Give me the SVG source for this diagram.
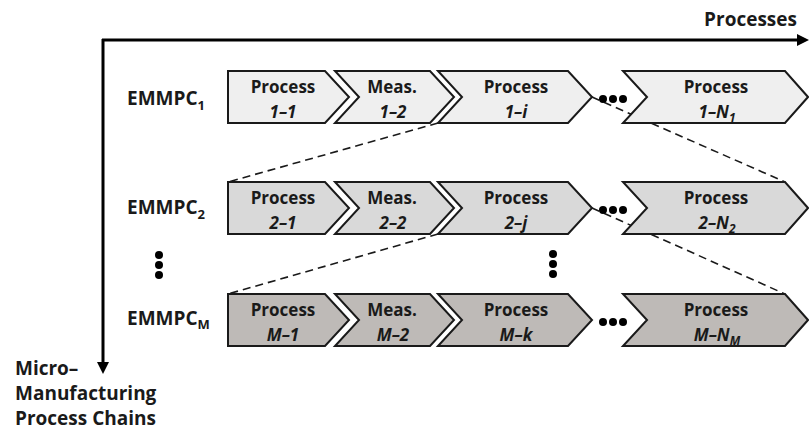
<svg xmlns="http://www.w3.org/2000/svg" width="809" height="430" viewBox="0 0 809 430">
<style>
text{font-family:"Open Sans","Liberation Sans",sans-serif;font-weight:bold;fill:#1a1a1a}
.bx{font-size:17px;text-anchor:middle}
.it{font-style:italic}
.lbl{font-size:19px}
.s1{fill:#efefef;stroke:#1a1a1a;stroke-width:2;stroke-linejoin:miter}
.s2{fill:#d9d9d9;stroke:#1a1a1a;stroke-width:2}
.s3{fill:#bebab7;stroke:#1a1a1a;stroke-width:2}
.dash{fill:none;stroke:#1a1a1a;stroke-width:1.6;stroke-dasharray:8 5}
.axis{fill:none;stroke:#000;stroke-width:3}
.dot{fill:#000}
</style>
<defs>
<marker id="ah" markerUnits="userSpaceOnUse" markerWidth="13" markerHeight="12" refX="1" refY="6" orient="auto">
<path d="M0,0 L12,6 L0,12 Z" fill="#000"/>
</marker>
<path id="p1" d="M0,0 H97 L121,26 L97,52 H0 Z"/>
<path id="p2" d="M0,0 H95 L119,26 L95,52 H0 L24,26 Z"/>
<path id="p3" d="M0,0 H130 L154,26 L130,52 H0 L24,26 Z"/>
<path id="p4" d="M0,0 H162 L185,26 L162,52 H0 L24,26 Z"/>
</defs>
<g id="connectors">
<path class="dash" d="M438,123 L228,182"/>
<path class="dash" d="M592,97 L785,182"/>
<path class="dash" d="M438,234 L228,294"/>
<path class="dash" d="M592,208 L785,294"/>
</g>
<g id="axes">
<path class="axis" d="M102,40 H798" marker-end="url(#ah)"/>
<path class="axis" d="M103,39 V363" marker-end="url(#ah)"/>
<text class="lbl" x="797" y="26" text-anchor="end">Processes</text>
<text class="lbl" x="15" y="375">Micro–</text>
<text class="lbl" x="15" y="400">Manufacturing</text>
<text class="lbl" x="15" y="425">Process Chains</text>
</g>
<g id="row1">
<text class="lbl" x="127" y="105">EMMPC<tspan font-size="13" dy="5">1</tspan></text>
<g id="n1-1"><use href="#p1" x="228" y="71" class="s1"/><text class="bx" x="283" y="93">Process</text><text class="bx it" x="283" y="118">1–1</text></g>
<g id="n1-2"><use href="#p2" x="335" y="71" class="s1"/><text class="bx" x="392" y="93">Meas.</text><text class="bx it" x="393" y="118">1–2</text></g>
<g id="n1-i"><use href="#p3" x="438" y="71" class="s1"/><text class="bx" x="516" y="93">Process</text><text class="bx it" x="516" y="118">1–i</text></g>
<g id="n1-N"><use href="#p4" x="623" y="71" class="s1"/><text class="bx" x="716" y="93">Process</text><text class="bx it" x="717" y="118">1–N<tspan font-size="12" dy="4">1</tspan></text></g>
<circle class="dot" cx="603" cy="99" r="4"/><circle class="dot" cx="613" cy="99" r="4"/><circle class="dot" cx="623" cy="99" r="4"/>
</g>
<g id="row2">
<text class="lbl" x="127" y="214">EMMPC<tspan font-size="13" dy="5">2</tspan></text>
<g id="n2-1"><use href="#p1" x="228" y="182" class="s2"/><text class="bx" x="283" y="204">Process</text><text class="bx it" x="283" y="229">2–1</text></g>
<g id="n2-2"><use href="#p2" x="335" y="182" class="s2"/><text class="bx" x="392" y="204">Meas.</text><text class="bx it" x="393" y="229">2–2</text></g>
<g id="n2-j"><use href="#p3" x="438" y="182" class="s2"/><text class="bx" x="516" y="204">Process</text><text class="bx it" x="516" y="229">2–j</text></g>
<g id="n2-N"><use href="#p4" x="623" y="182" class="s2"/><text class="bx" x="716" y="204">Process</text><text class="bx it" x="717" y="229">2–N<tspan font-size="12" dy="4">2</tspan></text></g>
<circle class="dot" cx="603" cy="210" r="4"/><circle class="dot" cx="613" cy="210" r="4"/><circle class="dot" cx="623" cy="210" r="4"/>
</g>
<g id="vdots">
<circle class="dot" cx="159" cy="255" r="4"/><circle class="dot" cx="159" cy="265" r="4"/><circle class="dot" cx="159" cy="275" r="4"/>
<circle class="dot" cx="553" cy="254" r="4"/><circle class="dot" cx="553" cy="264" r="4"/><circle class="dot" cx="553" cy="274" r="4"/>
</g>
<g id="rowM">
<text class="lbl" x="127" y="325">EMMPC<tspan font-size="13" dy="4">M</tspan></text>
<g id="nM-1"><use href="#p1" x="228" y="294" class="s3"/><text class="bx" x="283" y="316">Process</text><text class="bx it" x="283" y="341">M–1</text></g>
<g id="nM-2"><use href="#p2" x="335" y="294" class="s3"/><text class="bx" x="392" y="316">Meas.</text><text class="bx it" x="393" y="341">M–2</text></g>
<g id="nM-k"><use href="#p3" x="438" y="294" class="s3"/><text class="bx" x="516" y="316">Process</text><text class="bx it" x="516" y="341">M–k</text></g>
<g id="nM-N"><use href="#p4" x="623" y="294" class="s3"/><text class="bx" x="716" y="316">Process</text><text class="bx it" x="717" y="341">M–N<tspan font-size="12" dy="4">M</tspan></text></g>
<circle class="dot" cx="603" cy="322" r="4"/><circle class="dot" cx="613" cy="322" r="4"/><circle class="dot" cx="623" cy="322" r="4"/>
</g>
</svg>
